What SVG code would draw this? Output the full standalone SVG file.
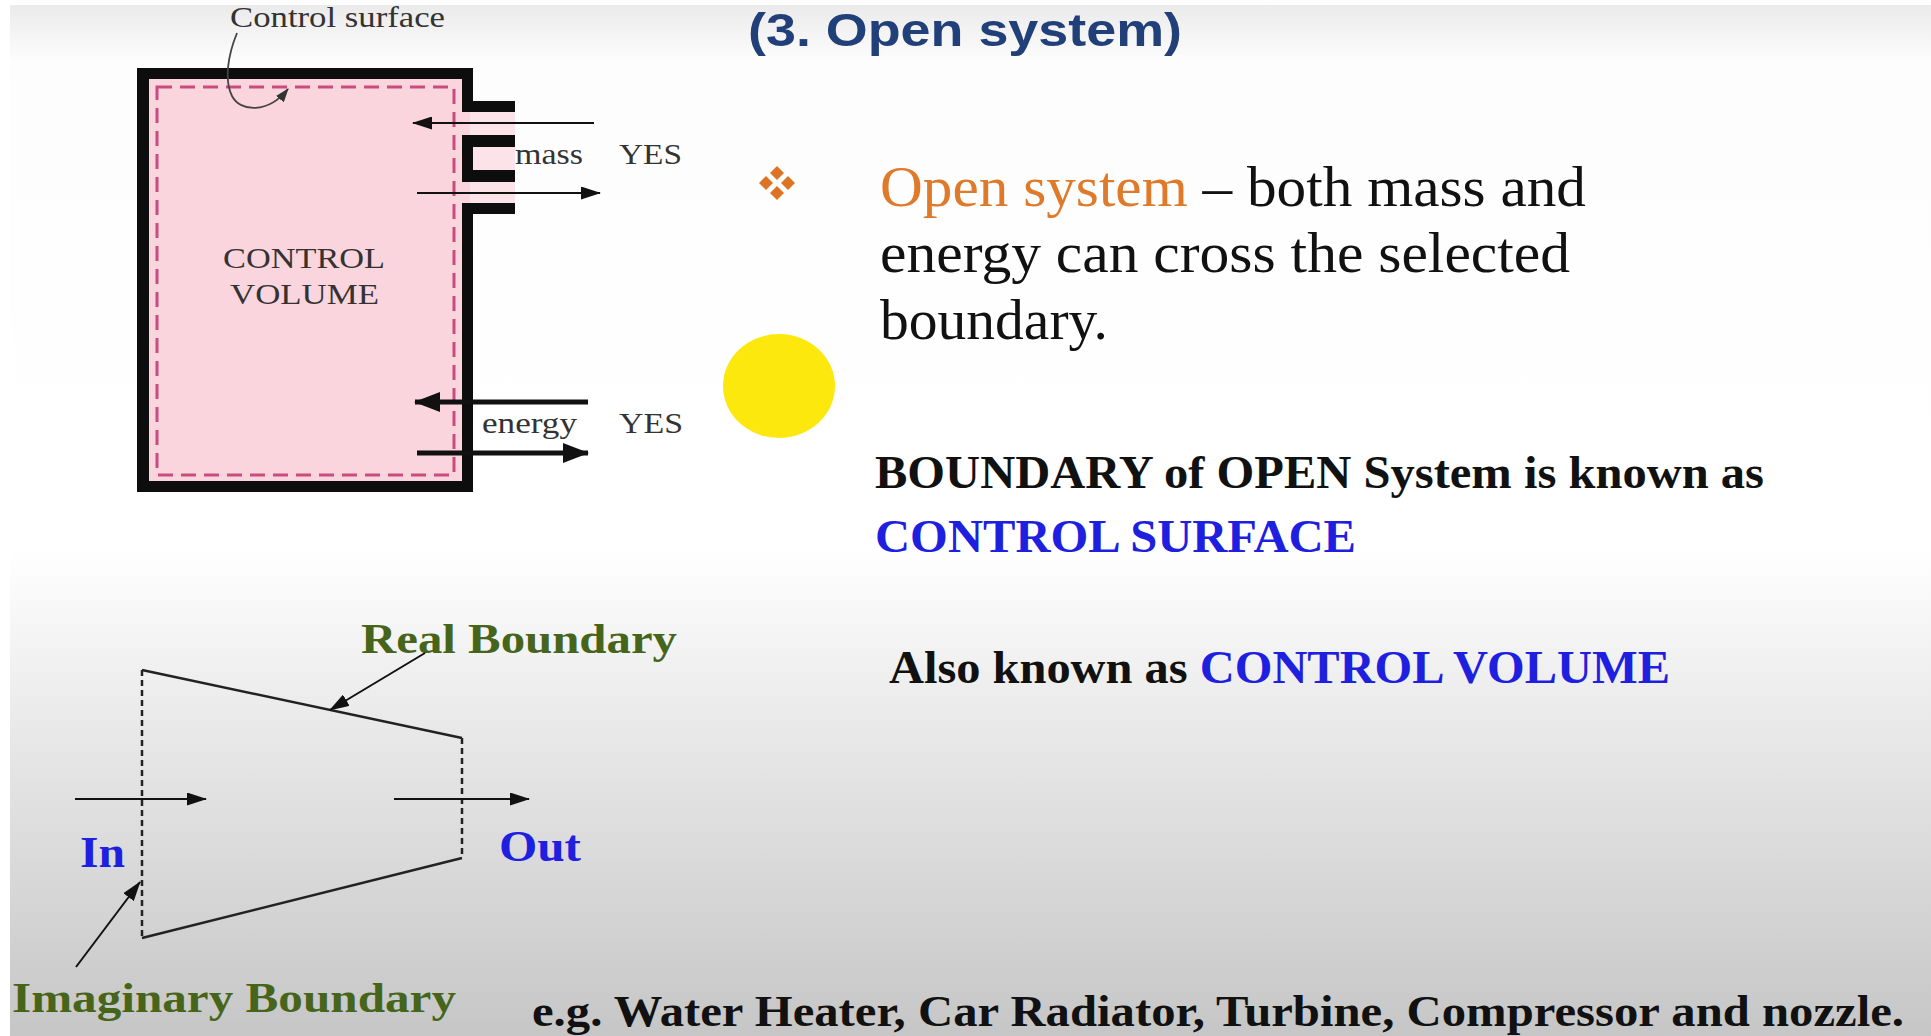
<svg xmlns="http://www.w3.org/2000/svg" width="1931" height="1036" viewBox="0 0 1931 1036">
<defs>
<linearGradient id="bg" x1="0" y1="0" x2="0" y2="1036" gradientUnits="userSpaceOnUse">
<stop offset="0" stop-color="#e9e9e9"/>
<stop offset="0.06" stop-color="#fdfdfd"/>
<stop offset="0.53" stop-color="#ffffff"/>
<stop offset="0.70" stop-color="#e9e9e9"/>
<stop offset="1" stop-color="#c6c6c6"/>
</linearGradient>
<marker id="ahThin" viewBox="0 0 20 13" refX="19" refY="6.5" markerWidth="20" markerHeight="13" orient="auto" markerUnits="userSpaceOnUse"><path d="M0,0 L20,6.5 L0,13 Z" fill="#111"/></marker>
<marker id="ahThick" viewBox="0 0 26 20" refX="25" refY="10" markerWidth="26" markerHeight="20" orient="auto" markerUnits="userSpaceOnUse"><path d="M0,0 L26,10 L0,20 Z" fill="#111"/></marker>
<marker id="ahSmall" viewBox="0 0 14 10" refX="13" refY="5" markerWidth="14" markerHeight="10" orient="auto" markerUnits="userSpaceOnUse"><path d="M0,0 L14,5 L0,10 Z" fill="#333"/></marker>
<style>
.serif{font-family:"Liberation Serif","Times New Roman",serif;}
.sans{font-family:"Liberation Sans",Arial,sans-serif;}
.lbl{font-size:30px;fill:#333;}
.body{font-size:56px;fill:#111;}
.bold{font-weight:bold;}
.blue{fill:#1f1fe0;}
.green{fill:#46651a;}
.wall{fill:#0d0d0d;}
.thin{stroke:#111;stroke-width:2;fill:none;}
.thick{stroke:#111;stroke-width:5;fill:none;}
.solid{stroke:#222;stroke-width:2.5;fill:none;}
.dash{stroke:#222;stroke-width:2.5;fill:none;stroke-dasharray:6 4;}
.dia{fill:#dc7424;}
</style>
</defs>
<rect x="0" y="0" width="1931" height="1036" fill="url(#bg)"/>
<rect x="0" y="0" width="10" height="1036" fill="#ffffff"/>
<rect x="0" y="0" width="1931" height="5" fill="#ffffff"/>

<g id="title">
<text class="sans bold" x="748" y="46" font-size="46" fill="#213f78" textLength="434" lengthAdjust="spacingAndGlyphs">(3. Open system)</text>
</g>

<g id="control-volume">
<rect x="140" y="72" width="330" height="416" fill="#fbd5de"/>
<rect x="470" y="101" width="45" height="113" fill="#fce3e9"/>
<rect x="157" y="87" width="297" height="388" fill="none" stroke="#c84d7e" stroke-width="3" stroke-dasharray="15 8"/>
<rect class="wall" x="137" y="68" width="12" height="424"/>
<rect class="wall" x="137" y="68" width="336" height="11"/>
<rect class="wall" x="137" y="481" width="336" height="11"/>
<rect class="wall" x="462" y="68" width="11" height="44"/>
<rect class="wall" x="462" y="101" width="53" height="11"/>
<rect class="wall" x="462" y="135" width="11" height="47"/>
<rect class="wall" x="462" y="135" width="53" height="12"/>
<rect class="wall" x="462" y="170" width="53" height="12"/>
<rect class="wall" x="462" y="203" width="53" height="11"/>
<rect class="wall" x="462" y="203" width="11" height="289"/>
<text class="serif lbl" x="223" y="268" font-size="31" textLength="162" lengthAdjust="spacingAndGlyphs">CONTROL</text>
<text class="serif lbl" x="230" y="304" font-size="31" textLength="149" lengthAdjust="spacingAndGlyphs">VOLUME</text>
</g>

<g id="control-surface-label">
<text class="serif lbl" x="230" y="27" textLength="215" lengthAdjust="spacingAndGlyphs">Control surface</text>
</g>

<g id="mass-label">
<text class="serif lbl" x="515" y="164" font-size="28" textLength="68" lengthAdjust="spacingAndGlyphs">mass</text>
<text class="serif lbl" x="619" y="164" font-size="29" textLength="63" lengthAdjust="spacingAndGlyphs">YES</text>
</g>

<g id="energy-label">
<text class="serif lbl" x="482" y="433" font-size="29" textLength="95" lengthAdjust="spacingAndGlyphs">energy</text>
<text class="serif lbl" x="619" y="433" font-size="29" textLength="64" lengthAdjust="spacingAndGlyphs">YES</text>
</g>

<g id="bullet">
<path class="dia" d="M777,166 L784,173 L777,180 L770,173 Z"/>
<path class="dia" d="M777,186 L784,193 L777,200 L770,193 Z"/>
<path class="dia" d="M766,176 L773,183 L766,190 L759,183 Z"/>
<path class="dia" d="M788,176 L795,183 L788,190 L781,183 Z"/>
</g>

<g id="yellow-dot">
<ellipse cx="779" cy="386" rx="56" ry="52" fill="#fce80c"/>
</g>

<g id="definition">
<text class="serif body" x="880" y="206" textLength="706" lengthAdjust="spacingAndGlyphs"><tspan fill="#de7a2a">Open system</tspan> – both mass and</text>
<text class="serif body" x="880" y="272" textLength="690" lengthAdjust="spacingAndGlyphs">energy can cross the selected</text>
<text class="serif body" x="880" y="339" textLength="228" lengthAdjust="spacingAndGlyphs">boundary.</text>
</g>

<g id="boundary-note">
<text class="serif bold" x="875" y="488" font-size="46" fill="#111" textLength="889" lengthAdjust="spacingAndGlyphs">BOUNDARY of OPEN System is known as</text>
<text class="serif bold blue" x="875" y="552" font-size="46" textLength="481" lengthAdjust="spacingAndGlyphs">CONTROL SURFACE</text>
</g>

<g id="also-known">
<text class="serif bold" x="889" y="683" font-size="46" fill="#111" textLength="781" lengthAdjust="spacingAndGlyphs">Also known as <tspan class="blue">CONTROL VOLUME</tspan></text>
</g>

<g id="trapezoid">
<path class="solid" d="M142,670 L462,738 M142,938 L462,858"/>
<path class="dash" d="M142,670 L142,938 M462,738 L462,858"/>
</g>

<g id="real-boundary-label">
<text class="serif bold green" x="361" y="653" font-size="43" textLength="316" lengthAdjust="spacingAndGlyphs">Real Boundary</text>
</g>
<g id="imaginary-boundary-label">
<text class="serif bold green" x="12" y="1012" font-size="43" textLength="444" lengthAdjust="spacingAndGlyphs">Imaginary Boundary</text>
</g>
<g id="in-label">
<text class="serif bold blue" x="80" y="867" font-size="44" textLength="45" lengthAdjust="spacingAndGlyphs">In</text>
</g>
<g id="out-label">
<text class="serif bold blue" x="499" y="861" font-size="44" textLength="82" lengthAdjust="spacingAndGlyphs">Out</text>
</g>
<g id="examples">
<text class="serif bold" x="532" y="1026" font-size="45" fill="#111" textLength="1372" lengthAdjust="spacingAndGlyphs">e.g. Water Heater, Car Radiator, Turbine, Compressor and nozzle.</text>
</g>

<g id="connectors">
<path d="M237,33 C228,55 224,80 232,96 C240,112 268,114 288,89" stroke="#444" stroke-width="1.8" fill="none" marker-end="url(#ahSmall)"/>
<line class="thin" x1="594" y1="123" x2="413" y2="123" marker-end="url(#ahThin)"/>
<line class="thin" x1="417" y1="193" x2="600" y2="193" marker-end="url(#ahThin)"/>
<line class="thick" x1="588" y1="402" x2="415" y2="402" marker-end="url(#ahThick)"/>
<line class="thick" x1="417" y1="453" x2="588" y2="453" marker-end="url(#ahThick)"/>
<line class="thin" x1="75" y1="799" x2="206" y2="799" marker-end="url(#ahThin)"/>
<line class="thin" x1="394" y1="799" x2="529" y2="799" marker-end="url(#ahThin)"/>
<line class="thin" x1="425" y1="653" x2="330" y2="710" marker-end="url(#ahThin)"/>
<line class="thin" x1="76" y1="967" x2="140" y2="882" marker-end="url(#ahThin)"/>
</g>
</svg>
